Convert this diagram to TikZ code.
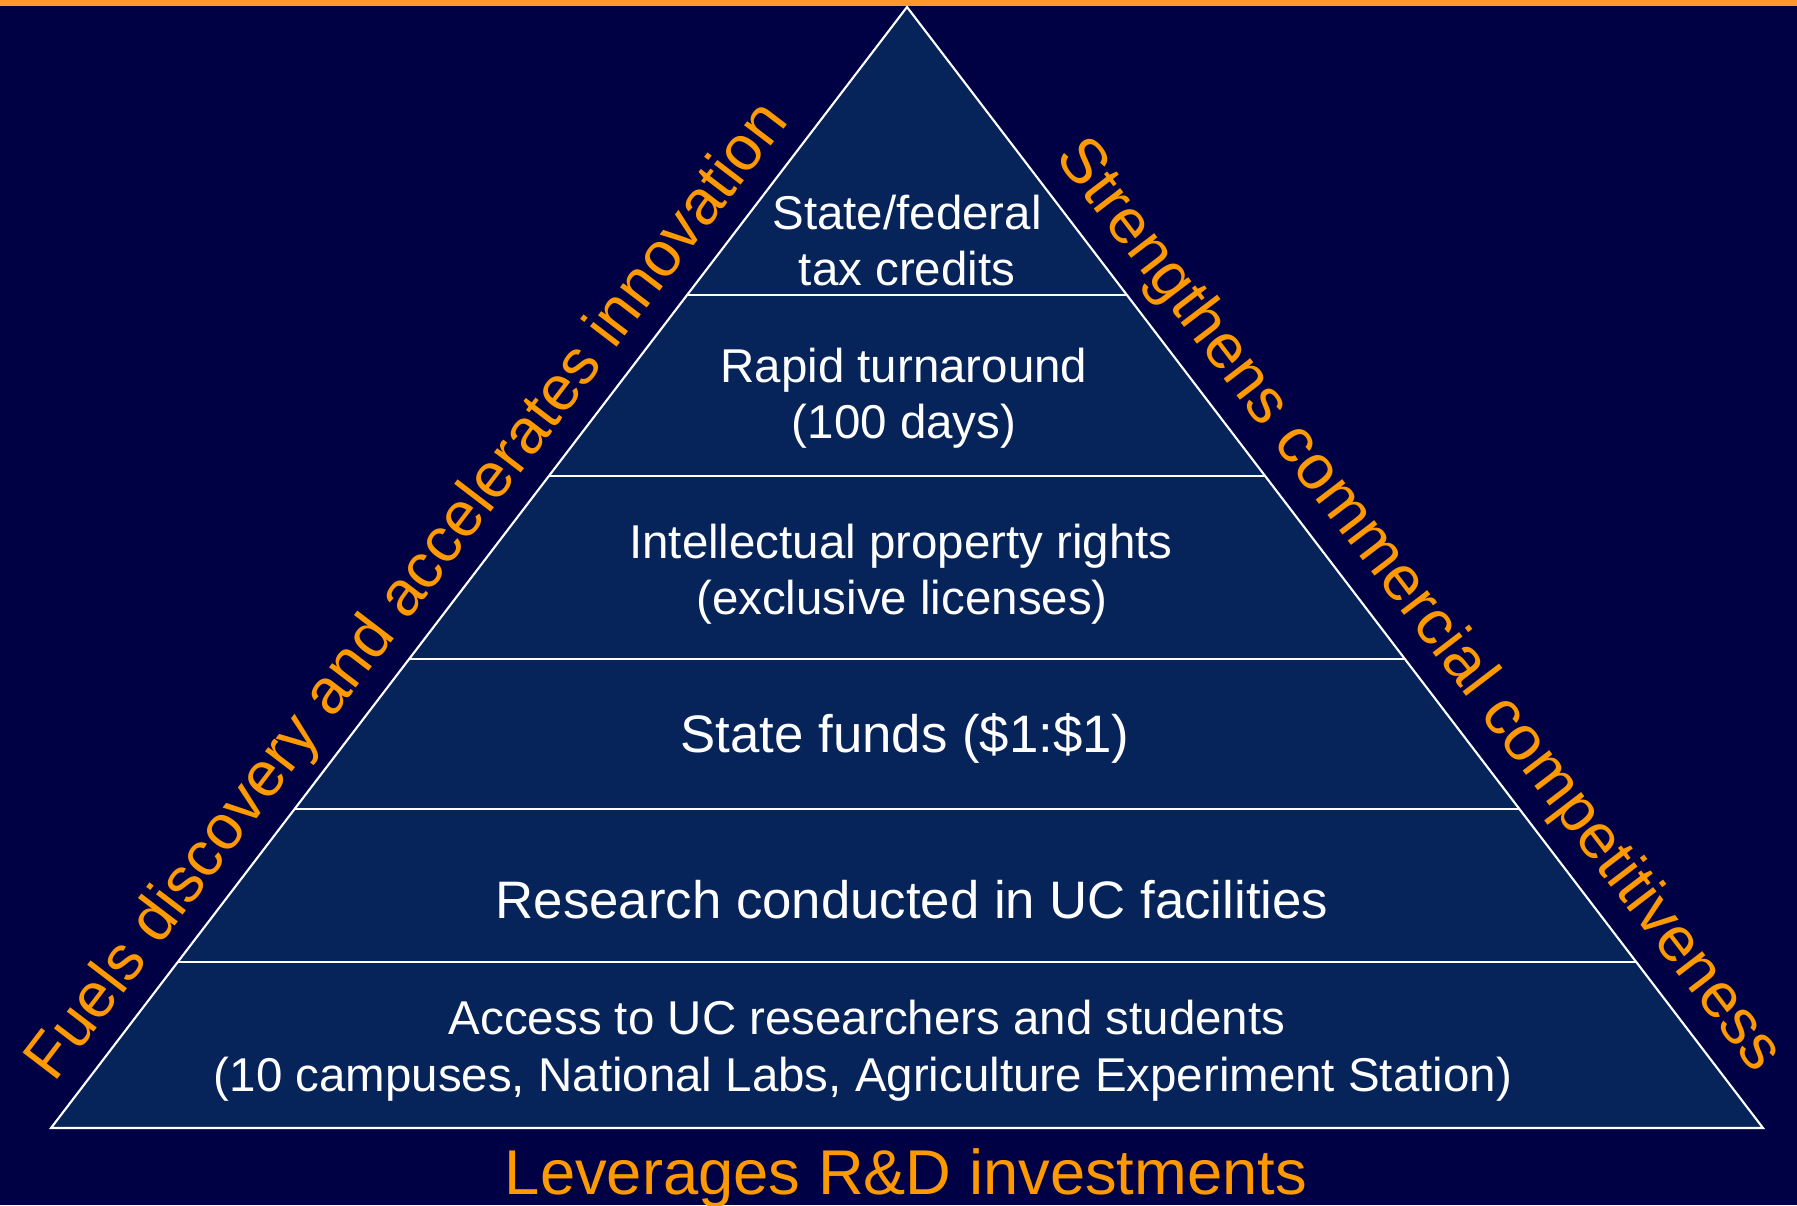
\documentclass[tikz,border=0pt]{standalone}
\usepackage{fontspec}
\setmainfont{Liberation Sans}
\usetikzlibrary{calc}

\definecolor{navybg}{RGB}{0,0,68}
\definecolor{tierfill}{RGB}{6,36,90}
\definecolor{accent}{RGB}{255,153,0}
\definecolor{topbar}{RGB}{255,150,50}

\tikzset{
    tier/.style={text=white, inner sep=0pt, anchor=base, font=\fontsize{13.5}{16}\selectfont},
    bigtier/.style={tier, font=\fontsize{15}{18}\selectfont},
    claim/.style={text=accent, inner sep=0pt, anchor=base, font=\fontsize{18}{21.6}\selectfont},
    edge/.style={draw=white, line width=0.6pt}
}

\begin{document}
\begin{tikzpicture}[x=0.01cm, y=-0.01cm]
    \fill[navybg] (0,0) rectangle (1797,1205);
    \fill[topbar] (0,0) rectangle (1797,6);
    \useasboundingbox (0,0) rectangle (1797,1205);

    \coordinate (apex) at (907, 7);
    \coordinate (baseL) at (51, 1128);
    \coordinate (baseR) at (1763, 1128);

    \filldraw[edge, fill=tierfill] (baseL) -- (apex) -- (baseR) -- cycle;

    \foreach \t [count=\i] in {0.1481, 0.2846, 0.4184, 0.5816, 0.7431}
        \draw[edge] ($(baseL)!\t!(apex)$) coordinate (tierL\i) -- ($(baseR)!\t!(apex)$) coordinate (tierR\i);

    \node[tier] (tax1) at (907, 229) {State/federal};
    \node[tier] (tax2) at (907, 285) {tax credits};
    \node[tier] (rapid1) at (904, 382) {Rapid turnaround};
    \node[tier] (rapid2) at (904, 438) {(100 days)};
    \node[tier] (ip1) at (901, 558) {Intellectual property rights};
    \node[tier] (ip2) at (902, 614) {(exclusive licenses)};
    \node[bigtier] (funds) at (905, 752) {State funds (\$1:\$1)};
    \node[bigtier] (facilities) at (912, 918) {Research conducted in UC facilities};
    \node[tier] (access1) at (867, 1034) {Access to UC researchers and students};
    \node[tier] (access2) at (863, 1091) {(10 campuses, National Labs, Agriculture Experiment Station)};

    \path (baseL) -- node[claim, sloped, pos=0.456, yshift=0.24cm] (fuels) {Fuels discovery and accelerates innovation} (apex);
    \path (apex) -- node[claim, sloped, pos=0.5576, yshift=0.26cm] (strengthens) {Strengthens commercial competitiveness} (baseR);
    \node[claim] (leverages) at (906, 1194) {Leverages R\&D investments};
\end{tikzpicture}
\end{document}
